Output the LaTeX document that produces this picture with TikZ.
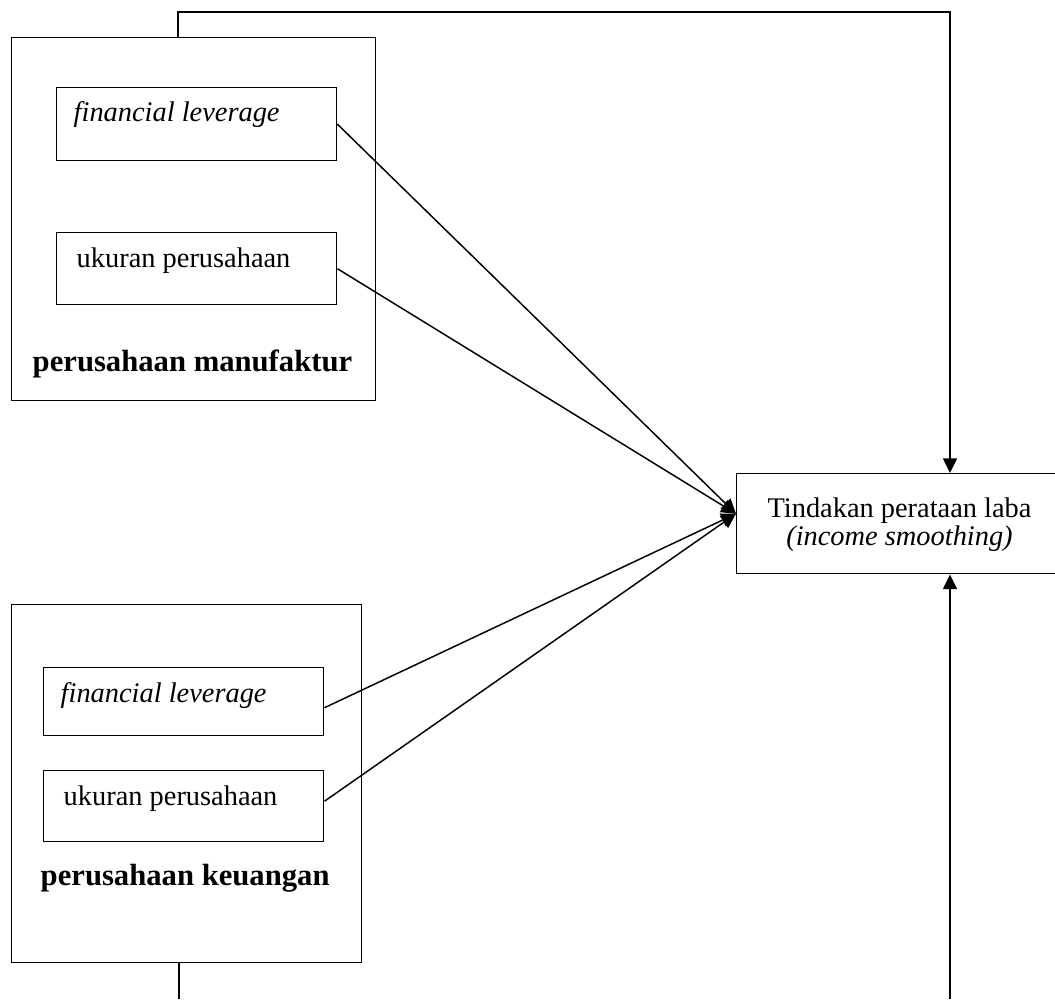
\documentclass[tikz,border=0pt]{standalone}
\usepackage{fontspec}
\setmainfont{Liberation Serif}
\usetikzlibrary{arrows.meta}
\begin{document}
\begin{tikzpicture}[x=0.75pt,y=-0.75pt,
  every path/.style={line width=1.1pt},
  box/.style={draw,line width=1.1pt,rectangle,inner sep=0pt,anchor=north west},
  txt/.style={inner sep=0pt,anchor=base west,font=\fontsize{21.3}{25}\selectfont},
  lbl/.style={inner sep=0pt,anchor=base west,font=\fontsize{23}{28}\selectfont\bfseries},
  conn/.style={line width=1.1pt,-{Triangle[length=11pt,width=10.5pt]}},
  plain/.style={line width=1.1pt}]
\useasboundingbox (0,0) rectangle (1055,999);
% outer group boxes
\node[box,minimum width=273pt,minimum height=272.25pt] (man) at (11,37) {};
\node[box,minimum width=262.5pt,minimum height=268.5pt] (keu) at (11,604) {};
% inner boxes
\node[box,minimum width=210pt,minimum height=54.75pt] (fl1) at (56,87) {};
\node[box,minimum width=210pt,minimum height=54pt] (uk1) at (56,232) {};
\node[box,minimum width=210pt,minimum height=51pt] (fl2) at (43,667) {};
\node[box,minimum width=210pt,minimum height=53.25pt] (uk2) at (43,770) {};
% target box (right edge beyond the page)
\node[box,minimum width=243pt,minimum height=75pt] (tgt) at (736,473) {};
% texts
\node[txt] (tfl1) at (73,121) {\itshape financial leverage};
\node[txt] (tuk1) at (76,267) {ukuran perusahaan};
\node[lbl] (tman) at (32,371) {perusahaan manufaktur};
\node[txt] (tfl2) at (60,702) {\itshape financial leverage};
\node[txt] (tuk2) at (63,805) {ukuran perusahaan};
\node[lbl] (tkeu) at (40,885) {perusahaan keuangan};
\node[txt,anchor=base] (tgt1) at (899.5,517) {Tindakan perataan laba};
\node[txt,anchor=base] (tgt2) at (899.5,545) {\itshape (income smoothing)};
% connectors
\coordinate (hub) at ([yshift=7.5pt]tgt.west);
\draw[conn] (fl1.east) -- (hub);
\draw[conn] (uk1.east) -- (hub);
\draw[conn] ([yshift=-4.5pt]fl2.east) -- (hub);
\draw[conn] ([yshift=3.75pt]uk2.east) -- (hub);
\coordinate (topleft) at (178,12);
\coordinate (topright) at (950,12);
\draw[conn] (man.north -| topleft) -- (topleft) -- (topright) -- (tgt.north -| topright);
\coordinate (botleft) at (179,999);
\coordinate (botright) at (950,999);
\draw[plain] (keu.south -| botleft) -- (botleft);
\draw[conn] (botright) -- (tgt.south -| botright);
\end{tikzpicture}
\end{document}
